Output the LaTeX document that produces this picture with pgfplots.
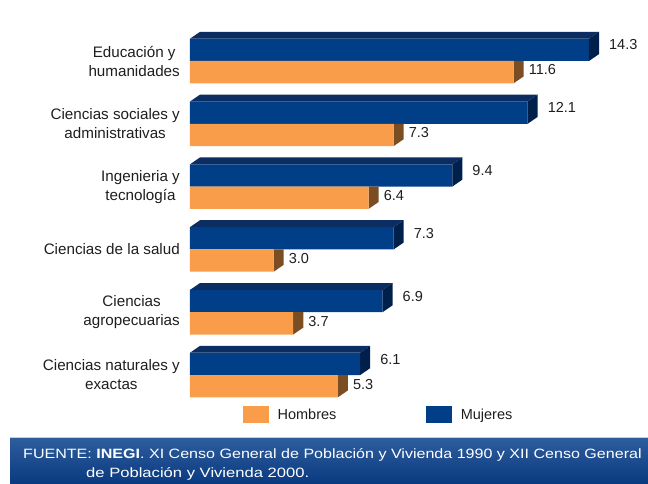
\documentclass[border=0pt]{standalone}
\usepackage{fontspec}
\setmainfont{Liberation Sans}
\usepackage{pgfplots}
\pgfplotsset{compat=1.18}
\definecolor{bFront}{HTML}{003F88}
\definecolor{bTop}{HTML}{0B2D62}
\definecolor{bSide}{HTML}{00204C}
\definecolor{oFront}{HTML}{FA9D4A}
\definecolor{oSide}{HTML}{7A4E22}
\definecolor{txt}{HTML}{1E1E1E}
\definecolor{banTop}{HTML}{2F5E9E}
\definecolor{banBot}{HTML}{0A3A80}
\begin{document}
\begin{tikzpicture}
\useasboundingbox (0pt,0pt) rectangle (648pt,483pt);
% footer banner
\shade[top color=banTop, bottom color=banBot] (10pt,0pt) rectangle (648pt,46pt);
\draw[white!70!banTop, line width=0.8pt] (10pt,45.6pt) -- (648pt,45.6pt);
\node[anchor=base west, inner sep=0pt, text=white, font=\fontsize{13.5}{15}\selectfont] at (23pt,25pt)
  {\scalebox{1.19}[1]{FUENTE: \textbf{INEGI}. XI Censo General de Población y Vivienda 1990 y XII Censo General}};
\node[anchor=base west, inner sep=0pt, text=white, font=\fontsize{13.5}{15}\selectfont] at (86pt,6pt)
  {\scalebox{1.23}[1]{de Población y Vivienda 2000.}};
\begin{axis}[
  at={(190pt,70.3pt)}, anchor=south west,
  scale only axis, width=446.4pt, height=389.4pt,
  xmin=0, xmax=16, ymin=-0.6, ymax=5.6,
  clip=false,
  axis line style={draw=none},
  major tick length=0pt,
  xtick=\empty,
  ytick={0,1,2,3,4,5},
  yticklabels={{Ciencias naturales y\\exactas},{Ciencias\\agropecuarias},{Ciencias de la salud},{Ingenieria y\\tecnología},{Ciencias sociales y\\administrativas},{Educación y\\humanidades}},
  yticklabel style={align=center, anchor=east, inner sep=0pt, xshift=-10pt, text=txt, font=\fontsize{15.2}{19}\selectfont},
  /pgf/number format/assume math mode=true,
  legend style={at={(rel axis cs:0.1187,-0.005)}, anchor=west, draw=none, fill=none, inner sep=0pt,
    nodes={inner sep=0pt, text=txt, font=\fontsize{14.5}{17}\selectfont}},
  legend columns=2,
]
% legend
\addlegendimage{legend image code/.code={\fill[oFront] (0pt,-8pt) rectangle (25pt,8pt);}}
\addlegendentry{\hspace*{9pt}Hombres\hspace*{90pt}}
\addlegendimage{legend image code/.code={\fill[bFront] (0pt,-8pt) rectangle (25pt,8pt);}}
\addlegendentry{\hspace*{9pt}Mujeres}
% Mujeres front
\addplot[forget plot, xbar, bar width=0.355, bar shift=0.1775, fill=bFront, draw=none,
  nodes near coords={\pgfmathprintnumber[fixed,fixed zerofill,precision=1]{\pgfplotspointmeta}},
  point meta=x,
  every node near coord/.style={anchor=west, inner sep=0pt, xshift=20pt, yshift=16pt, text=txt, font=\fontsize{14.5}{17}\selectfont}]
  coordinates {(6.1,0) (6.9,1) (7.3,2) (9.4,3) (12.1,4) (14.3,5)};
% blue top faces
\addplot[forget plot, fill=bTop, draw=none] coordinates {(0,5.355) (0.36,5.465) (14.66,5.465) (14.3,5.355) (0,5.355)};
\addplot[forget plot, fill=bTop, draw=none] coordinates {(0,4.355) (0.36,4.465) (12.46,4.465) (12.1,4.355) (0,4.355)};
\addplot[forget plot, fill=bTop, draw=none] coordinates {(0,3.355) (0.36,3.465) (9.76,3.465) (9.4,3.355) (0,3.355)};
\addplot[forget plot, fill=bTop, draw=none] coordinates {(0,2.355) (0.36,2.465) (7.66,2.465) (7.3,2.355) (0,2.355)};
\addplot[forget plot, fill=bTop, draw=none] coordinates {(0,1.355) (0.36,1.465) (7.26,1.465) (6.9,1.355) (0,1.355)};
\addplot[forget plot, fill=bTop, draw=none] coordinates {(0,0.355) (0.36,0.465) (6.46,0.465) (6.1,0.355) (0,0.355)};
% blue side faces
\addplot[forget plot, fill=bSide, draw=none] coordinates {(14.3,5) (14.3,5.355) (14.66,5.465) (14.66,5.11) (14.3,5)};
\addplot[forget plot, fill=bSide, draw=none] coordinates {(12.1,4) (12.1,4.355) (12.46,4.465) (12.46,4.11) (12.1,4)};
\addplot[forget plot, fill=bSide, draw=none] coordinates {(9.4,3) (9.4,3.355) (9.76,3.465) (9.76,3.11) (9.4,3)};
\addplot[forget plot, fill=bSide, draw=none] coordinates {(7.3,2) (7.3,2.355) (7.66,2.465) (7.66,2.11) (7.3,2)};
\addplot[forget plot, fill=bSide, draw=none] coordinates {(6.9,1) (6.9,1.355) (7.26,1.465) (7.26,1.11) (6.9,1)};
\addplot[forget plot, fill=bSide, draw=none] coordinates {(6.1,0) (6.1,0.355) (6.46,0.465) (6.46,0.11) (6.1,0)};
% orange side faces (visible part, below the blue bar)
\addplot[forget plot, fill=oSide, draw=none] coordinates {(11.6,4.645) (11.6,5) (11.96,5) (11.96,4.755) (11.6,4.645)};
\addplot[forget plot, fill=oSide, draw=none] coordinates {(7.3,3.645) (7.3,4) (7.66,4) (7.66,3.755) (7.3,3.645)};
\addplot[forget plot, fill=oSide, draw=none] coordinates {(6.4,2.645) (6.4,3) (6.76,3) (6.76,2.755) (6.4,2.645)};
\addplot[forget plot, fill=oSide, draw=none] coordinates {(3,1.645) (3,2) (3.36,2) (3.36,1.755) (3,1.645)};
\addplot[forget plot, fill=oSide, draw=none] coordinates {(3.7,0.645) (3.7,1) (4.06,1) (4.06,0.755) (3.7,0.645)};
\addplot[forget plot, fill=oSide, draw=none] coordinates {(5.3,-0.355) (5.3,0) (5.66,0) (5.66,-0.245) (5.3,-0.355)};
% Hombres front
\addplot[forget plot, xbar, bar width=0.355, bar shift=-0.1775, fill=oFront, draw=none,
  nodes near coords={\pgfmathprintnumber[fixed,fixed zerofill,precision=1]{\pgfplotspointmeta}},
  point meta=x,
  every node near coord/.style={anchor=west, inner sep=0pt, xshift=15pt, yshift=-9pt, text=txt, font=\fontsize{14.5}{17}\selectfont}]
  coordinates {(5.3,0) (3.7,1) (3.0,2) (6.4,3) (7.3,4) (11.6,5)};
\end{axis}
\end{tikzpicture}
\end{document}
